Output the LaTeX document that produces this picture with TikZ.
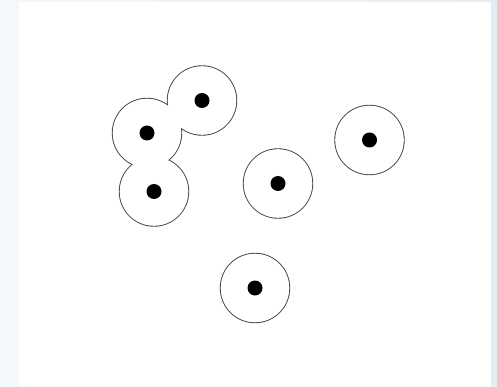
\documentclass[tikz,border=0pt]{standalone}
\begin{document}
\begin{tikzpicture}[x=1pt,y=-1pt,
  ring/.style={draw=black!75,line width=1.8pt},
  cover/.style={fill=white},
  dot/.style={fill=black}]
\useasboundingbox (0,0) rectangle (497,387);
\shade[left color={rgb,255:red,244;green,248;blue,250},right color={rgb,255:red,228;green,238;blue,242}] (0,0) rectangle (497,387);
\fill[white] (19,2) rectangle (491,387);
\coordinate (c1) at (202,100.5);
\coordinate (c2) at (147,133);
\coordinate (c3) at (154,191.5);
\coordinate (c4) at (278,183.5);
\coordinate (c5) at (369.5,140);
\coordinate (c6) at (255,288);
\def\R{34.3}
\foreach \c in {c1,c2,c3,c4,c5,c6} \draw[ring] (\c) circle[radius=\R];
\foreach \c in {c1,c2,c3,c4,c5,c6} \fill[cover] (\c) circle[radius=\R];
\foreach \c in {c1,c2,c3,c4,c5,c6} \fill[dot] (\c) circle[radius=7.5];
\end{tikzpicture}
\end{document}
